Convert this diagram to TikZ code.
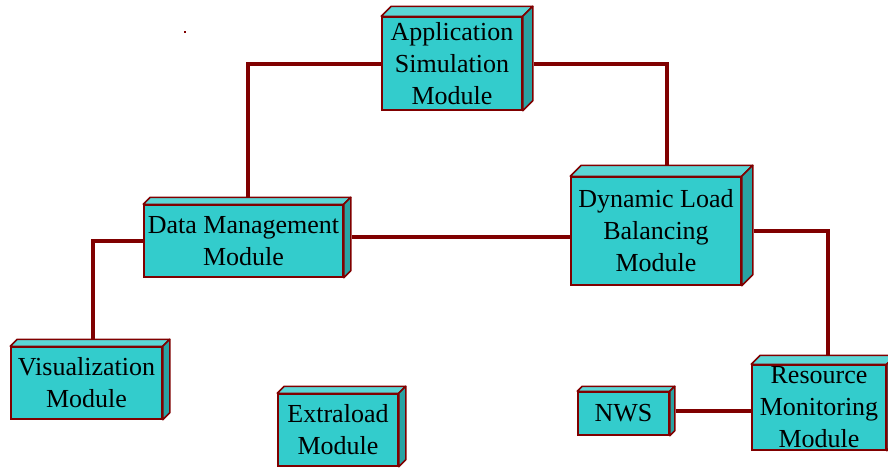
\documentclass[tikz,border=0pt]{standalone}
\usepackage{fontspec}
\setmainfont{Liberation Serif}
\definecolor{frontc}{HTML}{33CCCC}
\definecolor{topc}{HTML}{5CD6D6}
\definecolor{sidec}{HTML}{29A3A3}
\definecolor{edgec}{HTML}{800000}
\tikzset{
  modbox/.style={draw=edgec, line width=1.5pt, fill=frontc, inner sep=0pt, align=center,
    font=\fontsize{26}{32}\selectfont},
  topface/.style={draw=edgec, line width=1.5pt, fill=topc, line join=round},
  sideface/.style={draw=edgec, line width=1.5pt, fill=sidec, line join=round},
  conn/.style={draw=edgec, line width=4pt}
}
\newcommand\boxfaces[2]{%
  \filldraw[topface] (#1.north west) -- ++(#2,-#2) -- ([xshift=#2pt,yshift=#2pt]#1.north east) -- (#1.north east) -- cycle;
  \filldraw[sideface] (#1.north east) -- ([xshift=#2pt,yshift=#2pt]#1.north east) -- ([xshift=#2pt,yshift=#2pt]#1.south east) -- (#1.south east) -- cycle;}
\begin{document}
\begin{tikzpicture}[x=1pt,y=-1pt]
\useasboundingbox (0,0) rectangle (888,467);
\clip (0,0) rectangle (888,467);
\node[modbox, minimum width=140pt, minimum height=93pt] (app) at (452,63.5) {Application\\Simulation\\Module};
\node[modbox, minimum width=170pt, minimum height=108pt] (dlb) at (656,231) {Dynamic Load\\Balancing\\Module};
\node[modbox, minimum width=199pt, minimum height=72pt] (dm) at (243.5,241) {Data Management\\Module};
\node[modbox, minimum width=151pt, minimum height=72pt] (vis) at (86.5,383) {Visualization\\Module};
\node[modbox, minimum width=120pt, minimum height=72pt] (ext) at (338,430) {Extraload\\Module};
\node[modbox, minimum width=91pt, minimum height=43pt] (nws) at (623.5,413.5) {NWS};
\node[modbox, minimum width=134pt, minimum height=85pt] (rm) at (819,407.5) {Resource\\Monitoring\\Module};
\boxfaces{app}{10}
\boxfaces{dlb}{11}
\boxfaces{dm}{7}
\boxfaces{vis}{7}
\boxfaces{ext}{7}
\boxfaces{nws}{5}
\boxfaces{rm}{9}
% connectors
\draw[conn] ([xshift=-0.75pt]app.west) -| ([xshift=4.5pt,yshift=7pt]dm.north);
\draw[conn] ([xshift=10.75pt]app.east) -| ([xshift=11pt,yshift=11pt]dlb.north);
\path ([xshift=7.75pt,yshift=4pt]dm.east) coordinate (p3);
\draw[conn] (p3) -- ([xshift=-0.75pt]p3 -| dlb.west);
\draw[conn] ([xshift=-0.75pt]dm.west) -| ([xshift=6.5pt,yshift=7pt]vis.north);
\draw[conn] ([xshift=11.75pt]dlb.east) -| ([xshift=9pt,yshift=9pt]rm.north);
\path ([xshift=5.75pt,yshift=2.5pt]nws.east) coordinate (p6);
\draw[conn] (p6) -- ([xshift=-0.75pt]p6 -| rm.west);
% stray mark
\fill[edgec] (184,31) rectangle (186,33);
\end{tikzpicture}
\end{document}
